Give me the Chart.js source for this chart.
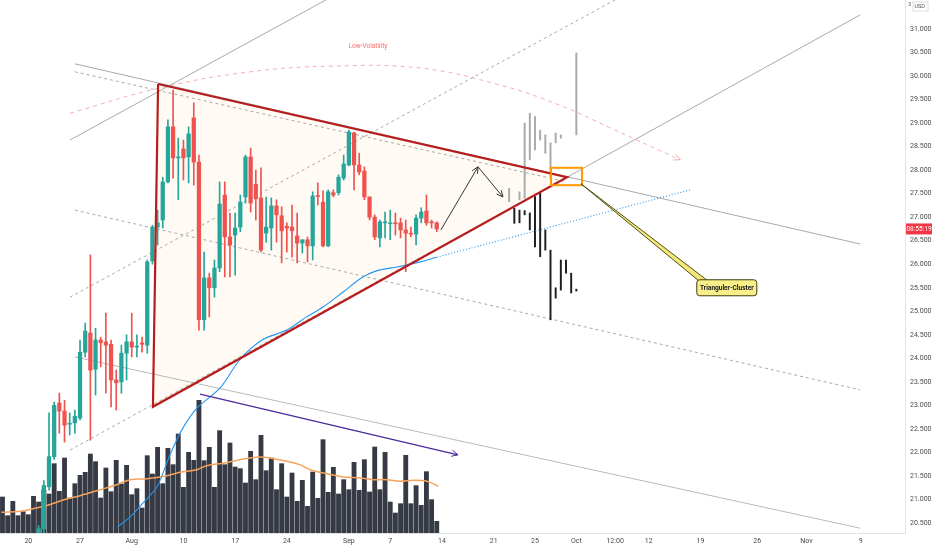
<!DOCTYPE html>
<html>
<head>
<meta charset="utf-8">
<script src="https://cdn.jsdelivr.net/npm/chart.js@4.4.1/dist/chart.umd.min.js"></script>
<style>
  html, body { margin: 0; padding: 0; background: #fff; }
</style>
</head>
<body>
<canvas id="chart" width="932" height="550"></canvas>
<script>
// --- price bars (12h), index 0 = first bar fully visible ---
const firstBar = -2;
const opens = [19.9, 20.38, 21.27, 21.91, 23.05, 22.88, 22.6, 22.63, 22.73, 24.13, 24.54, 23.77, 24.39, 24.35, 24.3, 23.54, 23.5, 24.11, 24.35, 24.24, 24.33, 24.28, 26.07, 26.79, 26.94, 27.75, 28.92, 28.26, 28.45, 28.28, 29.11, 28.17, 24.82, 25.71, 25.5, 25.92, 27.47, 26.58, 26.62, 26.79, 27.43, 28.28, 27.7, 27.41, 26.66, 26.77, 27.24, 27.03, 26.81, 26.79, 26.6, 26.45, 26.52, 26.39, 27.45, 27.32, 26.39, 27.52, 27.52, 27.83, 28.11, 28.79, 28.11, 27.98, 27.43, 27.0, 26.56, 26.88, 26.86, 26.87, 26.88, 26.73, 26.66, 26.64, 26.98, 27.13, 26.9, 26.88];
const highs = [20.45, 21.4, 22.84, 23.07, 23.26, 23.11, 22.84, 22.9, 24.39, 24.75, 26.2, 24.64, 24.45, 24.96, 24.39, 23.75, 24.28, 24.5, 24.96, 24.5, 24.45, 26.09, 26.83, 27.15, 27.85, 29.07, 29.7, 28.68, 28.64, 28.92, 29.43, 28.32, 26.26, 25.81, 26.09, 27.75, 27.75, 27.09, 27.09, 27.47, 28.32, 28.47, 28.0, 28.05, 27.43, 27.41, 27.37, 27.22, 26.88, 27.26, 27.09, 26.52, 26.58, 27.54, 27.73, 27.56, 27.58, 27.58, 27.9, 28.32, 28.85, 28.81, 28.36, 28.07, 27.43, 27.05, 26.94, 27.11, 27.15, 27.09, 26.98, 26.94, 26.79, 27.05, 27.2, 27.47, 26.94, 26.9];
const lows = [19.8, 20.2, 21.2, 21.85, 22.41, 22.22, 22.37, 22.41, 22.69, 24.03, 22.26, 23.22, 23.82, 23.26, 22.97, 22.9, 23.26, 23.54, 24.03, 24.03, 24.13, 24.11, 26.0, 26.41, 26.77, 27.73, 27.83, 27.37, 27.79, 27.73, 27.68, 24.6, 24.6, 24.88, 25.3, 25.84, 25.73, 25.73, 25.77, 26.69, 27.3, 27.11, 26.94, 26.26, 26.47, 26.3, 26.47, 26.03, 26.26, 26.15, 26.03, 26.24, 26.05, 26.09, 27.26, 26.37, 26.37, 27.43, 27.47, 27.79, 28.09, 27.58, 27.9, 27.37, 26.94, 26.52, 26.37, 26.56, 26.52, 26.62, 26.56, 25.84, 26.58, 26.41, 26.88, 26.83, 26.77, 26.69];
const closes = [20.38, 21.3, 21.91, 23.0, 22.88, 22.58, 22.62, 22.77, 24.13, 24.58, 23.75, 24.39, 24.33, 24.28, 23.54, 23.48, 24.11, 24.35, 24.24, 24.26, 24.3, 26.05, 26.79, 26.88, 27.75, 28.92, 28.26, 28.28, 28.26, 28.77, 28.17, 24.82, 25.71, 25.5, 25.92, 27.28, 26.58, 26.41, 26.77, 27.32, 28.28, 27.3, 27.39, 26.3, 26.79, 27.24, 27.05, 26.71, 26.77, 26.71, 26.45, 26.52, 26.39, 27.45, 27.44, 26.39, 27.54, 27.47, 27.85, 28.13, 28.81, 28.11, 27.96, 27.43, 27.0, 26.58, 26.9, 26.89, 26.87, 26.86, 26.73, 26.66, 26.64, 26.98, 27.11, 26.88, 26.88, 26.75];

// --- volume (K) ---
const volStart = -9;
const volumes = [108, 52, 95, 52, 64, 55, 110, 93, 130, 117, 208, 125, 225, 105, 148, 173, 182, 237, 214, 105, 195, 124, 218, 147, 203, 115, 133, 75, 232, 177, 257, 148, 254, 205, 297, 137, 242, 218, 398, 217, 257, 137, 307, 205, 270, 198, 193, 150, 245, 160, 293, 187, 225, 130, 208, 108, 180, 95, 158, 80, 183, 104, 280, 122, 197, 117, 160, 130, 212, 128, 220, 123, 258, 130, 242, 93, 60, 88, 233, 88, 142, 83, 184, 100, 35];
const volMaX = [-9.2, -5.6, -3, -0.5, 3.4, 6, 9.9, 13.1, 15.7, 18.9, 22.8, 25.3, 28.6, 30.5, 34, 36.9, 38.9, 40.8, 42.7, 46, 48.5, 50.5, 53.7, 56.9, 60.2, 62.7, 65.3, 67.9, 70.5, 73.1, 75.3];
const volMaY = [62, 65, 73, 82, 102, 112, 130, 145, 160, 163, 172, 182, 190, 202, 210, 220, 225, 228, 225, 215, 205, 190, 178, 168, 165, 160, 160, 155, 158, 155, 140];

// --- moving average on price ---
const maX = [13.3, 15.7, 18.2, 20.9, 23.4, 25.7, 28.6, 33.1, 36.9, 41.2, 46, 49.5, 53, 56.9, 60.7, 64, 67.3, 71.8, 75];
const maY = [20.42, 20.63, 20.93, 21.27, 21.95, 22.48, 22.94, 23.37, 23.97, 24.39, 24.6, 24.86, 25.09, 25.41, 25.73, 25.88, 25.94, 26.05, 26.15];
const maExt = [[75, 26.15], [124, 27.58]];

// --- projected bars pattern ---
const grayBarX = [89, 91, 92, 93, 94, 95, 96, 97, 98, 99, 102];
const grayBarLo = [27.33, 27.37, 27.40, 28.22, 28.43, 28.64, 28.36, 27.85, 28.58, 28.68, 28.75];
const grayBarHi = [27.61, 27.54, 29.00, 29.21, 29.14, 28.85, 28.75, 28.58, 28.79, 28.75, 30.49];
const blackBarX = [90, 91, 92, 93, 94, 95, 96, 97, 98, 99, 100, 101, 102];
const blackBarLo = [26.87, 26.88, 27.05, 26.73, 26.37, 26.16, 26.30, 24.82, 25.28, 25.45, 25.81, 25.39, 25.43];
const blackBarHi = [27.19, 27.15, 27.14, 27.09, 27.44, 27.51, 26.73, 26.30, 25.50, 26.09, 26.09, 25.81, 25.47];

// --- drawings, anchored as [bar index, price] ---
const triangle = [[21.1, 29.83], [20.1, 22.97], [100.2, 27.85]];
const descTop = [[5.0, 30.26], [156.9, 26.43]];
const descTopDash = [[5.0, 30.09], [100.2, 27.75]];
const descMid = [[5.0, 27.15], [156.9, 23.33]];
const descLow = [[5.0, 24.03], [156.9, 20.39]];
const ascTop = [[4.06, 28.64], [53.6, 31.62]];
const ascMid = [[4.06, 25.30], [109.5, 31.62]];
const ascLowDash = [[4.06, 22.05], [100.2, 27.85]];
const ascLowSolid = [[100.2, 27.85], [156.9, 31.30]];
const volArc = [[4.06, 29.21], [21.5, 29.75], [38.9, 30.09], [54.4, 30.21], [71.8, 30.17], [87.2, 29.81], [98.8, 29.38], [108.5, 28.90], [122.1, 28.22]];
const purpleArrow = [[29.2, 23.24], [79.1, 21.95]];
const pathUp = [[75.8, 26.73], [82.98, 28.07]];
const pathDown = [[82.98, 28.07], [87.8, 27.43]];
const clusterBox = [[97.1, 28.05], [103.1, 27.68]];
const calloutTip = [102.9, 27.71];
const calloutAt = [131.1, 25.50];
const calloutText = "Trianguler-Cluster";
const arcLabel = { at: [61.7, 30.64], text: "Low-Volatility" };
const countdown = "08:55:19";

// --- axis ticks ---
const xTickPos = [-4, 6, 16, 26, 36, 46, 58, 66, 76, 86, 94, 102, 109.5, 116, 126, 137, 146.5, 157];
const xTickLabels = ["20", "27", "Aug", "10", "17", "24", "Sep", "7", "14", "21", "25", "Oct", "12:00", "12", "19", "26", "Nov", "9"];
const yTicks = [20.5, 21, 21.5, 22, 22.5, 23, 23.5, 24, 24.5, 25, 25.5, 26, 26.5, 27, 27.5, 28, 28.5, 29, 29.5, 30, 30.5, 31];

const UP = "#26a69a", DOWN = "#ef5350";
const candleColors = opens.map((o, i) => (closes[i] >= o ? UP : DOWN));
const pts = (arr) => arr.map(([x, y]) => ({ x, y }));

function lineDs(data, color, width, dash, order, extra) {
  return Object.assign({
    type: "line", data: pts(data), borderColor: color, borderWidth: width,
    borderDash: dash || [], pointRadius: 0, fill: false, order: order, yAxisID: "y",
  }, extra || {});
}

const overlay = {
  id: "overlay",
  beforeDatasetsDraw(chart) {
    const { ctx, chartArea: a, scales: { x, y } } = chart;
    ctx.save();
    ctx.beginPath();
    ctx.rect(a.left, a.top, a.right - a.left, a.bottom - a.top);
    ctx.clip();
    ctx.beginPath();
    triangle.forEach(([j, p], i) => {
      const px = x.getPixelForValue(j), py = y.getPixelForValue(p);
      i ? ctx.lineTo(px, py) : ctx.moveTo(px, py);
    });
    ctx.closePath();
    ctx.fillStyle = "rgba(255, 240, 215, 0.28)";
    ctx.fill();
    ctx.restore();
  },
  afterDatasetsDraw(chart) {
    const { ctx, chartArea: a, scales: { x, y } } = chart;
    const P = ([j, p]) => [x.getPixelForValue(j), y.getPixelForValue(p)];
    ctx.save();
    ctx.beginPath();
    ctx.rect(a.left, a.top, a.right - a.left, a.bottom - a.top);
    ctx.clip();

    // arrow heads on flagged lines
    chart.data.datasets.forEach((ds, i) => {
      if (!ds.arrowHead) return;
      const el = chart.getDatasetMeta(i).data;
      const p1 = el[el.length - 2], p2 = el[el.length - 1];
      const ang = Math.atan2(p2.y - p1.y, p2.x - p1.x);
      const len = 7;
      ctx.beginPath();
      ctx.moveTo(p2.x - len * Math.cos(ang - 0.45), p2.y - len * Math.sin(ang - 0.45));
      ctx.lineTo(p2.x, p2.y);
      ctx.lineTo(p2.x - len * Math.cos(ang + 0.45), p2.y - len * Math.sin(ang + 0.45));
      ctx.strokeStyle = ds.borderColor;
      ctx.lineWidth = 1;
      ctx.setLineDash([]);
      ctx.stroke();
    });

    // orange cluster box
    const [b1x, b1y] = P(clusterBox[0]), [b2x, b2y] = P(clusterBox[1]);
    ctx.strokeStyle = "#ff9800";
    ctx.lineWidth = 2;
    ctx.strokeRect(b1x, b1y, b2x - b1x, b2y - b1y);

    // callout
    const [tx, ty] = P(calloutTip), [cx, cy] = P(calloutAt);
    const bw = 60, bh = 16;
    ctx.beginPath();
    ctx.moveTo(tx, ty);
    ctx.lineTo(cx - bw / 2 + 2, cy - bh / 2 + 1);
    ctx.lineTo(cx - bw / 2 + 11, cy - bh / 2 + 1);
    ctx.closePath();
    ctx.fillStyle = "#f3e77a";
    ctx.fill();
    ctx.strokeStyle = "#4f4f14";
    ctx.lineWidth = 1;
    ctx.stroke();
    ctx.beginPath();
    ctx.roundRect(cx - bw / 2, cy - bh / 2, bw, bh, 3);
    ctx.fillStyle = "#fbef8a";
    ctx.fill();
    ctx.strokeStyle = "#3d3d10";
    ctx.stroke();
    ctx.fillStyle = "#131722";
    ctx.font = "bold 6.5px Roboto";
    ctx.textAlign = "center";
    ctx.textBaseline = "middle";
    ctx.fillText(calloutText, cx, cy + 0.5);

    // arc label
    const [lx, ly] = P(arcLabel.at);
    ctx.fillStyle = "#f07070";
    ctx.font = "6.5px Roboto";
    ctx.fillText(arcLabel.text, lx, ly);
    ctx.restore();
  },
  afterDraw(chart) {
    const { ctx, chartArea: a, scales: { y } } = chart;
    ctx.save();
    // last price countdown tag
    const yy = y.getPixelForValue(closes[closes.length - 1]);
    ctx.fillStyle = "#f23645";
    ctx.fillRect(a.right + 1, yy - 5.5, 932 - a.right - 1, 11);
    ctx.fillStyle = "#fff";
    ctx.font = "6.5px Roboto";
    ctx.textAlign = "center";
    ctx.textBaseline = "middle";
    ctx.fillText(countdown, (a.right + 932) / 2 + 0.5, yy + 0.5);
    // currency
    ctx.fillStyle = "#555";
    ctx.font = "5.5px Roboto";
    ctx.textAlign = "left";
    ctx.fillText("3", a.right + 3, 5);
    ctx.strokeStyle = "#d1d4dc";
    ctx.lineWidth = 0.8;
    ctx.strokeRect(a.right + 8, 2, 15, 9);
    ctx.fillText("USD", a.right + 9.5, 7);
    ctx.restore();
  },
};

new Chart(document.getElementById("chart"), {
  type: "bar",
  data: {
    datasets: [
      {
        label: "Volume", yAxisID: "yv", order: 20,
        data: volumes.map((v, i) => ({ x: volStart + i, y: v })),
        backgroundColor: "#363a45", barThickness: 4.2, grouped: false,
      },
      lineDs(volMaX.map((v, i) => [v, volMaY[i]]), "#f7a35c", 1.5, null, 19, { yAxisID: "yv", tension: 0.35 }),
      lineDs(descTop, "rgba(140,140,140,0.75)", 1, null, 15),
      lineDs(descTopDash, "rgba(140,140,140,0.75)", 1, [3, 3], 15),
      lineDs(descMid, "rgba(140,140,140,0.75)", 1, [3, 3], 15),
      lineDs(descLow, "rgba(140,140,140,0.6)", 1, null, 15),
      lineDs(ascTop, "rgba(140,140,140,0.75)", 1, null, 15),
      lineDs(ascMid, "rgba(140,140,140,0.75)", 1, [3, 3], 15),
      lineDs(ascLowDash, "rgba(140,140,140,0.75)", 1, [3, 3], 15),
      lineDs(ascLowSolid, "rgba(140,140,140,0.75)", 1, null, 15),
      lineDs(volArc, "rgba(240,120,120,0.6)", 1, [4, 4], 15, { tension: 0.4, arrowHead: true }),
      {
        label: "Wicks", order: 10,
        data: opens.map((o, i) => ({ x: firstBar + i, y: [lows[i], highs[i]] })),
        backgroundColor: candleColors, barThickness: 1, grouped: false,
      },
      {
        label: "Bodies", order: 9,
        data: opens.map((o, i) => ({ x: firstBar + i, y: [o, closes[i]] })),
        backgroundColor: candleColors, barThickness: 3.6, minBarLength: 1, grouped: false,
      },
      {
        label: "Projection", order: 8,
        data: grayBarX.map((j, i) => ({ x: j, y: [grayBarLo[i], grayBarHi[i]] })),
        backgroundColor: "#a9a9a9", barThickness: 1.3, minBarLength: 1, grouped: false,
      },
      {
        label: "Projection 2", order: 8,
        data: blackBarX.map((j, i) => ({ x: j, y: [blackBarLo[i], blackBarHi[i]] })),
        backgroundColor: "#1e1e1e", barThickness: 1.3, minBarLength: 1, grouped: false,
      },
      lineDs(maX.map((v, i) => [v, maY[i]]), "#2196f3", 1.1, null, 6, { tension: 0.3 }),
      lineDs(maExt, "#2196f3", 1.1, [1, 2], 6),
      lineDs(purpleArrow, "#4a2a9c", 1.3, null, 5, { arrowHead: true }),
      lineDs(pathUp, "#333", 1, null, 5, { arrowHead: true }),
      lineDs(pathDown, "#333", 1, null, 5, { arrowHead: true }),
      lineDs(triangle.concat([triangle[0]]), "#b71c1c", 2.2, null, 4),
    ],
  },
  options: {
    responsive: false,
    animation: false,
    events: [],
    layout: { padding: 0 },
    plugins: { legend: { display: false }, tooltip: { enabled: false } },
    scales: {
      x: {
        type: "linear", min: -9.48, max: 165.57, offset: false,
        grid: { display: false, drawTicks: false },
        border: { display: true, color: "#e0e3eb" },
        afterBuildTicks: (s) => { s.ticks = xTickPos.map((v) => ({ value: v })); },
        afterFit: (s) => { s.height = 17; s.paddingLeft = 0; s.paddingRight = 0; },
        ticks: {
          autoSkip: false, maxRotation: 0, padding: 4, color: "#4a4a4a",
          font: { family: "Roboto", size: 7 },
          callback: (v, i) => xTickLabels[i],
        },
      },
      y: {
        position: "right", min: 20.288, max: 31.616,
        grid: { display: false, drawTicks: false },
        border: { display: true, color: "#e0e3eb" },
        afterBuildTicks: (s) => { s.ticks = yTicks.map((v) => ({ value: v })); },
        afterFit: (s) => { s.width = 27; s.paddingTop = 0; s.paddingBottom = 0; },
        ticks: {
          padding: 5, color: "#4a4a4a",
          font: { family: "Roboto", size: 7 },
          callback: (v) => Number(v).toFixed(3),
        },
      },
      yv: { display: false, min: 0, max: 1599 },
    },
  },
  plugins: [overlay],
});
</script>
</body>
</html>
